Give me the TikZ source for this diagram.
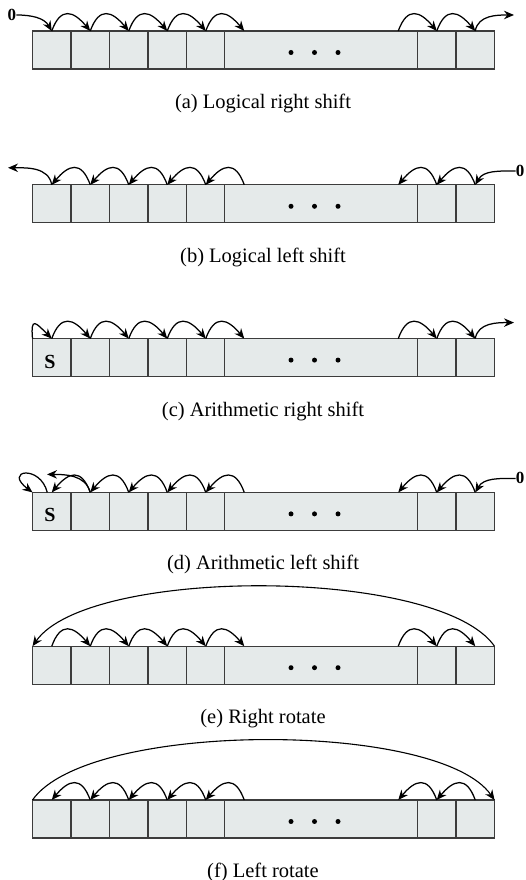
\documentclass[tikz,border=0pt]{standalone}
\usepackage{fontspec}
\setmainfont{Liberation Serif}
\usetikzlibrary{arrows.meta,calc}
\definecolor{cellfill}{RGB}{229,234,234}
\definecolor{cellline}{RGB}{60,60,60}
\tikzset{
  cell/.style={draw=cellline, fill=cellfill, line width=1.1pt, minimum width=38.5pt,
    minimum height=38pt, inner sep=0pt, outer sep=0pt},
  widecell/.style={cell, minimum width=192.5pt},
  sarr/.style={line width=1.25pt, -{Stealth[length=10pt,width=8.5pt]}},
  bigarr/.style={line width=1.1pt, -{Stealth[length=10pt,width=8.5pt]}},
  rarc/.style={sarr, out=70, in=130, looseness=1.75},
  larc/.style={sarr, out=110, in=50, looseness=1.75},
  dotn/.style={circle, fill=black, inner sep=0pt, minimum size=5pt},
  captxt/.style={font=\fontsize{20.5}{24}\selectfont, inner sep=0pt},
  zerolbl/.style={font=\fontsize{17}{20}\selectfont\bfseries, inner sep=0pt},
  sbit/.style={font=\fontsize{20}{23}\selectfont\bfseries, inner sep=0pt},
}
\newcommand\drawreg[2]{%
  \foreach \k in {0,1,2,3,4,10,11}{
    \node[cell] (#1\k) at ({51.75+38.5*\k},{#2-19}) {};
  }
  \node[widecell] (#1w) at (321,{#2-19}) {};
  \foreach \k in {0,...,11}{
    \coordinate (#1t\k) at ({51.75+38.5*\k},#2);
  }
  \node[dotn] (#1d1) at (291,{#2-21.5}) {};
  \node[dotn] (#1d2) at (314.5,{#2-21.5}) {};
  \node[dotn] (#1d3) at (338,{#2-21.5}) {};
}
\newcommand\rightarrows[1]{%
  \foreach \k [evaluate=\k as \n using {int(\k+1)}] in {0,1,2,3,4,9,10}{
    \draw[rarc] (#1t\k) to (#1t\n);
  }
}
\newcommand\leftarrows[1]{%
  \foreach \k [evaluate=\k as \n using {int(\k-1)}] in {1,2,3,4,5,10,11}{
    \draw[larc] (#1t\k) to (#1t\n);
  }
}
\begin{document}
\begin{tikzpicture}[x=1pt,y=1pt]
\useasboundingbox (0,0) rectangle (526,880);
% (a) Logical right shift
\drawreg{a}{849}
\rightarrows{a}
\node[zerolbl] (a0lbl) at (12,865) {0};
\draw[sarr, out=0, in=120] (a0lbl.east) to (at0);
\coordinate (aout) at (514,865);
\draw[sarr, out=80, in=180] (at11) to (aout);
\node[captxt] (acap) at (263,776.5) {(a) Logical right shift};
% (b) Logical left shift
\drawreg{b}{695.2}
\leftarrows{b}
\coordinate (bout) at (8,712.2);
\draw[sarr, out=100, in=0] (bt0) to (bout);
\node[zerolbl] (b0lbl) at (520,709) {0};
\draw[sarr, out=180, in=60] (b0lbl.west) to (bt11);
\node[captxt] (bcap) at (263,622.7) {(b) Logical left shift};
% (c) Arithmetic right shift
\drawreg{c}{541.4}
\rightarrows{c}
\node[sbit] (cs) at (50,518.4) {S};
\draw[sarr, out=95, in=135, looseness=3] (c0.north west) to (ct0);
\coordinate (cout) at (514,557.4);
\draw[sarr, out=80, in=180] (ct11) to (cout);
\node[captxt] (ccap) at (263,468.9) {(c) Arithmetic right shift};
% (d) Arithmetic left shift
\drawreg{d}{387.6}
\leftarrows{d}
\node[sbit] (ds) at (50,364.6) {S};
\coordinate (dstart) at ($(dt0)+(-4.5,0)$);
\draw[sarr, out=104, in=143, out distance=29pt, in distance=37pt] (dstart) to (d0.north west);
\coordinate (dout) at (47,405.6);
\draw[sarr, out=105, in=0] (dt1) to (dout);
\node[zerolbl] (d0lbl) at (520,401.6) {0};
\draw[sarr, out=180, in=60] (d0lbl.west) to (dt11);
\node[captxt] (dcap) at (263,315.1) {(d) Arithmetic left shift};
% (e) Right rotate
\drawreg{e}{233.8}
\rightarrows{e}
\draw[bigarr, out=125, in=55, looseness=0.54] (e11.north east) to (e0.north west);
\node[captxt] (ecap) at (263,161.3) {(e) Right rotate};
% (f) Left rotate
\drawreg{f}{80}
\leftarrows{f}
\draw[bigarr, out=55, in=125, looseness=0.54] (f0.north west) to (f11.north east);
\node[captxt] (fcap) at (263,8) {(f) Left rotate};
\end{tikzpicture}
\end{document}
